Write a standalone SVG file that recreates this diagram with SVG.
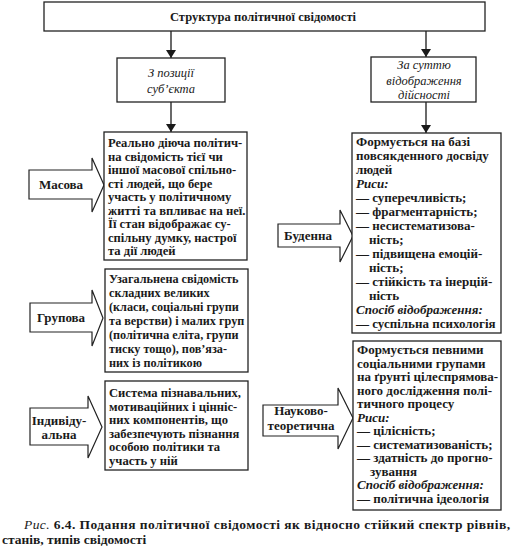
<svg xmlns="http://www.w3.org/2000/svg" width="517" height="560" viewBox="0 0 517 560">
<defs>
<marker id="ah" markerWidth="8" markerHeight="10" refX="8" refY="5" orient="auto" markerUnits="userSpaceOnUse" viewBox="0 0 8 10">
<path d="M0,0 L8,5 L0,10 Z" fill="#1a1a1a"/>
</marker>
<style>
.box{fill:#fff;stroke:#222;stroke-width:1.3}
.harrow{fill:#fff;stroke:#222;stroke-width:1.2;stroke-linejoin:miter}
text{font-family:'Liberation Serif','Times New Roman',serif}
.t{font-size:13px;font-weight:bold;fill:#1a1a1a}
.l{font-size:12.6px}
.g{font-size:12.2px}
.i{font-size:12.5px;font-style:italic;fill:#1a1a1a}
.bi{font-style:italic}
.c{text-anchor:middle}
.line{stroke:#1a1a1a;stroke-width:1.3;fill:none}
</style>
</defs>
<rect width="517" height="560" fill="#fff"/>

<g id="connectors">
<line class="line" x1="171" y1="31" x2="171" y2="58" marker-end="url(#ah)"/>
<line class="line" x1="171" y1="102" x2="171" y2="132" marker-end="url(#ah)"/>
<line class="line" x1="426" y1="31" x2="426" y2="57" marker-end="url(#ah)"/>
<line class="line" x1="426" y1="102" x2="426" y2="133" marker-end="url(#ah)"/>
</g>

<g id="title">
<rect class="box" x="44" y="2" width="441" height="29"/>
<text class="t c" x="263" y="21" style="font-size:12.5px">Структура політичної свідомості</text>
</g>

<g id="subject">
<rect class="box" x="117" y="58" width="108" height="44"/>
<text class="i c" x="171" y="77">З позиції</text>
<text class="i c" x="171" y="93">суб’єкта</text>
</g>

<g id="essence">
<rect class="box" x="371" y="57" width="105" height="45"/>
<text class="i c" x="424" y="69">За суттю</text>
<text class="i c" x="424" y="85">відображення</text>
<text class="i c" x="424" y="99">дійсності</text>
</g>

<g id="masova">
<polygon class="harrow" points="29,170 92,170 92,158 104,185 92,212 92,199 29,199"/>
<text class="t c" x="61" y="189">Масова</text>
<rect class="box" x="104" y="132" width="143" height="128"/>
<text class="t l">
<tspan x="108" y="147">Реально діюча політич-</tspan>
<tspan x="108" y="160.5">на свідомість тієї чи</tspan>
<tspan x="108" y="174">іншої масової спільно-</tspan>
<tspan x="108" y="187.5">сті людей, що бере</tspan>
<tspan x="108" y="201">участь у політичному</tspan>
<tspan x="108" y="214.5">житті та впливає на неї.</tspan>
<tspan x="108" y="228">Її стан відображає су-</tspan>
<tspan x="108" y="241.5">спільну думку, настрої</tspan>
<tspan x="108" y="255">та дії людей</tspan>
</text>
</g>

<g id="grupova">
<polygon class="harrow" points="30,303 92,303 92,290 103,318 92,346 92,332 30,332"/>
<text class="t c" x="61" y="322">Групова</text>
<rect class="box" x="105" y="269" width="143" height="103"/>
<text class="t g">
<tspan x="109" y="282.5">Узагальнена свідомість</tspan>
<tspan x="109" y="296.5">складних великих</tspan>
<tspan x="109" y="310.5">(класи, соціальні групи</tspan>
<tspan x="109" y="324.5">та верстви) і малих груп</tspan>
<tspan x="109" y="338.5">(політична еліта, групи</tspan>
<tspan x="109" y="352.5">тиску тощо), пов’яза-</tspan>
<tspan x="109" y="366.5">них із політикою</tspan>
</text>
</g>

<g id="individualna">
<polygon class="harrow" points="30,408 88,408 88,396 102,427 88,458 88,445 30,445"/>
<text class="t c" x="59" y="425">Індивіду-</text>
<text class="t c" x="59" y="439">альна</text>
<rect class="box" x="105" y="381" width="143" height="89"/>
<text class="t l">
<tspan x="109" y="397">Система пізнавальних,</tspan>
<tspan x="109" y="410.5">мотиваційних і цінніс-</tspan>
<tspan x="109" y="424">них компонентів, що</tspan>
<tspan x="109" y="437.5">забезпечують пізнання</tspan>
<tspan x="109" y="451">особою політики та</tspan>
<tspan x="109" y="464.5">участь у ній</tspan>
</text>
</g>

<g id="budenna">
<polygon class="harrow" points="278,224 340,224 340,210 353,236 340,262 340,247 278,247"/>
<text class="t c" x="308" y="240">Буденна</text>
<rect class="box" x="352" y="133" width="149" height="200"/>
<text class="t">
<tspan x="356" y="146">Формується на базі</tspan>
<tspan x="356" y="160">повсякденного досвіду</tspan>
<tspan x="356" y="174">людей</tspan>
<tspan x="356" y="188" class="bi">Риси:</tspan>
<tspan x="356" y="202">— суперечливість;</tspan>
<tspan x="356" y="216">— фрагментарність;</tspan>
<tspan x="356" y="230">— несистематизова-</tspan>
<tspan x="369" y="244">ність;</tspan>
<tspan x="356" y="258">— підвищена емоцій-</tspan>
<tspan x="369" y="272">ність;</tspan>
<tspan x="356" y="286">— стійкість та інерцій-</tspan>
<tspan x="369" y="300">ність</tspan>
<tspan x="356" y="314" class="bi">Спосіб відображення:</tspan>
<tspan x="356" y="328">— суспільна психологія</tspan>
</text>
</g>

<g id="naukovo">
<polygon class="harrow" points="263,405 338,405 338,388 353,418 338,449 338,436 263,436"/>
<text class="t c" x="301" y="415">Науково-</text>
<text class="t c" x="301" y="430">теоретична</text>
<rect class="box" x="353" y="341" width="148" height="169"/>
<text class="t">
<tspan x="357" y="354">Формується певними</tspan>
<tspan x="357" y="367.5">соціальними групами</tspan>
<tspan x="357" y="381">на ґрунті цілеспрямова-</tspan>
<tspan x="357" y="394.5">ного дослідження полі-</tspan>
<tspan x="357" y="408">тичного процесу</tspan>
<tspan x="357" y="421.5" class="bi">Риси:</tspan>
<tspan x="357" y="435">— цілісність;</tspan>
<tspan x="357" y="448.5">— систематизованість;</tspan>
<tspan x="357" y="462">— здатність до прогно-</tspan>
<tspan x="370" y="475.5">зування</tspan>
<tspan x="357" y="489" class="bi">Спосіб відображення:</tspan>
<tspan x="357" y="502.5">— політична ідеологія</tspan>
</text>
</g>

<g id="caption">
<text class="t" style="font-size:13.5px" x="24" y="529" textLength="486" lengthAdjust="spacing"><tspan style="font-style:italic;font-weight:normal">Рис.</tspan> 6.4. Подання політичної свідомості як відносно стійкий спектр рівнів,</text>
<text class="t" style="font-size:13.5px" x="2" y="544">станів, типів свідомості</text>
</g>
</svg>
